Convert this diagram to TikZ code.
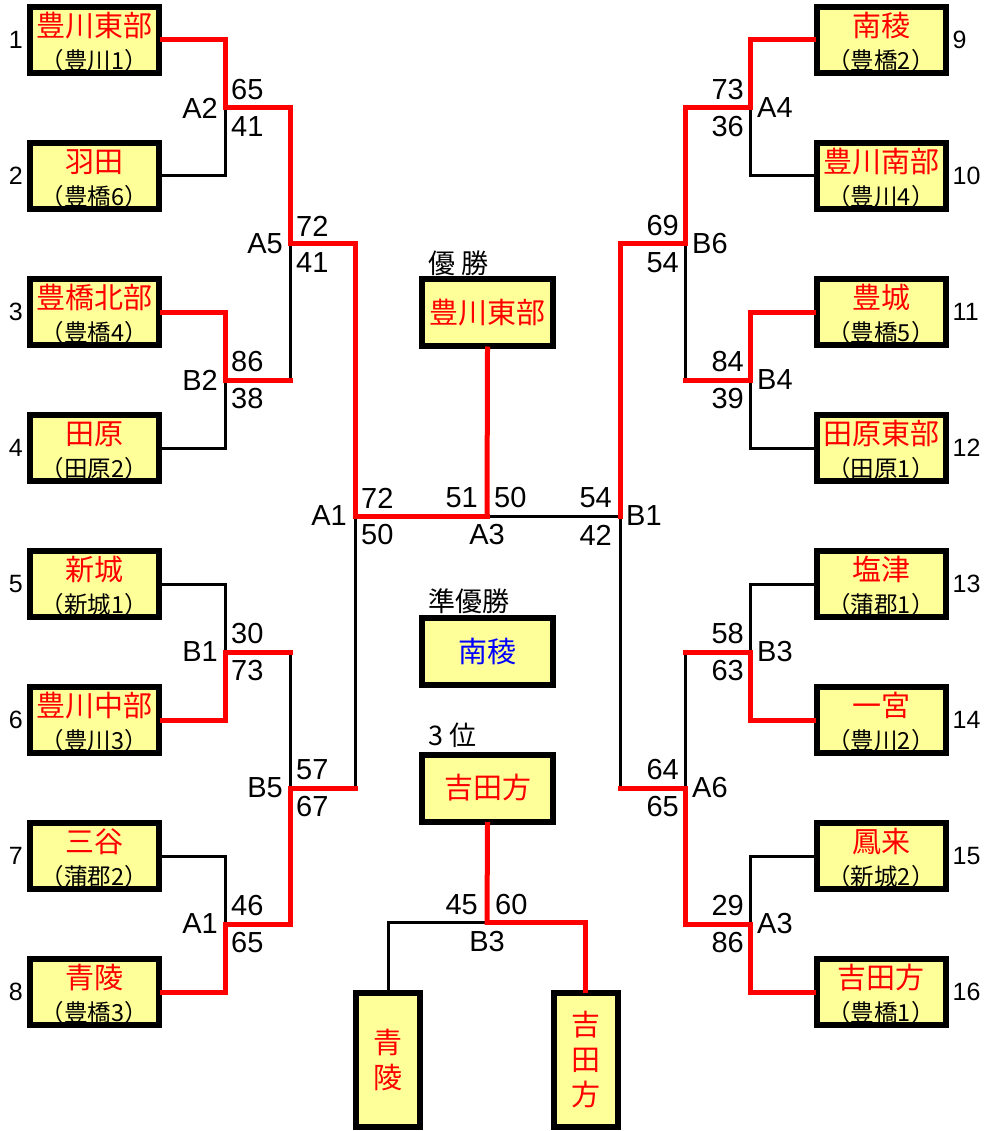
\documentclass[tikz,border=0pt]{standalone}
\usepackage{fontspec}
\setmainfont{Liberation Sans}
\newfontfamily\jp{Noto Sans CJK JP}
\usepackage{tikz}
\usetikzlibrary{positioning,calc}
\definecolor{boxfill}{RGB}{255,255,153}
\definecolor{winred}{RGB}{255,0,0}
\definecolor{runblue}{RGB}{0,0,255}
\newcommand{\nm}[1]{{\color{winred}\fontsize{29}{33}\selectfont\rule{0pt}{29pt}#1}}

\begin{document}
\begin{tikzpicture}[x=1pt, y=-1pt]
\tikzstyle{team}=[draw, line width=6pt, fill=boxfill, minimum width=129pt, minimum height=66pt, inner sep=0pt, align=center, font=\jp\fontsize{23.5}{33}\selectfont]
\tikzstyle{final}=[draw, line width=6pt, fill=boxfill, minimum width=131pt, minimum height=67pt, inner sep=0pt, font=\jp\fontsize{29}{35}\selectfont]
\tikzstyle{vbox}=[draw, line width=6pt, fill=boxfill, minimum width=64pt, minimum height=134pt, inner sep=0pt, align=center, text=winred, font=\jp\fontsize{29}{35}\selectfont]
\tikzstyle{lbl}=[inner sep=0pt, anchor=west, font=\jp\fontsize{27}{27}\selectfont]
\tikzstyle{seed}=[inner sep=0pt, font=\fontsize{25}{25}\selectfont]
\tikzstyle{sc}=[inner sep=0pt, font=\fontsize{29}{29}\selectfont]
\tikzstyle{win}=[draw=winred, line width=5pt, line cap=rect]
\tikzstyle{lose}=[draw=black, line width=3pt, line cap=rect]
\useasboundingbox (0,0) rectangle (984,1131);
% left half
\node[team] (t1) at (94.5,40) {\nm{豊川東部}\\（豊川1）};
\node[team] (t2) at (94.5,176) {\nm{羽田}\\（豊橋6）};
\node[team] (t3) at (94.5,312) {\nm{豊橋北部}\\（豊橋4）};
\node[team] (t4) at (94.5,448) {\nm{田原}\\（田原2）};
\node[team] (t5) at (94.5,584) {\nm{新城}\\（新城1）};
\node[team] (t6) at (94.5,720) {\nm{豊川中部}\\（豊川3）};
\node[team] (t7) at (94.5,856) {\nm{三谷}\\（蒲郡2）};
\node[team] (t8) at (94.5,992) {\nm{青陵}\\（豊橋3）};
% right half
\node[team] (t9) at (881,40) {\nm{南稜}\\（豊橋2）};
\node[team] (t10) at (881,176) {\nm{豊川南部}\\（豊川4）};
\node[team] (t11) at (881,312) {\nm{豊城}\\（豊橋5）};
\node[team] (t12) at (881,448) {\nm{田原東部}\\（田原1）};
\node[team] (t13) at (881,584) {\nm{塩津}\\（蒲郡1）};
\node[team] (t14) at (881,720) {\nm{一宮}\\（豊川2）};
\node[team] (t15) at (881,856) {\nm{鳳来}\\（新城2）};
\node[team] (t16) at (881,992) {\nm{吉田方}\\（豊橋1）};
% seeds
\node[seed, left=4pt of t1] (n1) {1};
\node[seed, left=4pt of t2] (n2) {2};
\node[seed, left=4pt of t3] (n3) {3};
\node[seed, left=4pt of t4] (n4) {4};
\node[seed, left=4pt of t5] (n5) {5};
\node[seed, left=4pt of t6] (n6) {6};
\node[seed, left=4pt of t7] (n7) {7};
\node[seed, left=4pt of t8] (n8) {8};
\node[seed, right=4pt of t9] (n9) {9};
\node[seed, right=4pt of t10] (n10) {10};
\node[seed, right=4pt of t11] (n11) {11};
\node[seed, right=4pt of t12] (n12) {12};
\node[seed, right=4pt of t13] (n13) {13};
\node[seed, right=4pt of t14] (n14) {14};
\node[seed, right=4pt of t15] (n15) {15};
\node[seed, right=4pt of t16] (n16) {16};
% centre boxes
\node[final, text=winred] (champ) at (487.5,312.5) {豊川東部};
\node[lbl] (champL) at (428,263) {優 勝};
\node[final, text=runblue] (second) at (487.5,651.5) {南稜};
\node[lbl] (secondL) at (428,601) {準優勝};
\node[final, text=winred] (third) at (487.5,788) {吉田方};
\node[lbl] (thirdL) at (428,735) {3 位};
\node[vbox] (aoi) at (388,1060) {青\\陵};
\node[vbox] (yoshi) at (585.5,1060) {吉\\田\\方};
% junctions
\coordinate (A2) at (225,108);
\coordinate (B2) at (225,380);
\coordinate (B1L) at (225,652);
\coordinate (A1L) at (225,924);
\coordinate (A5) at (290,244);
\coordinate (B5) at (290,788);
\coordinate (A1) at (355,516);
\coordinate (A4) at (750,108);
\coordinate (B4) at (750,380);
\coordinate (B3R) at (750,652);
\coordinate (A3R) at (750,924);
\coordinate (B6) at (685,244);
\coordinate (A6) at (685,788);
\coordinate (B1) at (620,516);
\coordinate (A3) at (487,516);
\coordinate (B3) at (487,922);
% losing lines
\draw[lose] (t2.east) -| (A2);
\draw[lose] (t4.east) -| (B2);
\draw[lose] (t5.east) -| (B1L);
\draw[lose] (t7.east) -| (A1L);
\draw[lose] (B2 -| A5) -- (A5);
\draw[lose] (B1L -| B5) -- (B5);
\draw[lose] (B5 -| A1) -- (A1);
\draw[lose] (t10.west) -| (A4);
\draw[lose] (t12.west) -| (B4);
\draw[lose] (t13.west) -| (B3R);
\draw[lose] (t15.west) -| (A3R);
\draw[lose] (B4 -| B6) -- (B6);
\draw[lose] (B3R -| A6) -- (A6);
\draw[lose] (A6 -| B1) -- (B1);
\draw[lose] (B1) -- (A3);
\draw[lose] (B3) -| (aoi.north);
% winning lines
\draw[win] (t1.east) -| (A2);
\draw[win] (t3.east) -| (B2);
\draw[win] (t6.east) -| (B1L);
\draw[win] (t8.east) -| (A1L);
\draw[win] (A2) -| (A5);
\draw[win] (B2) -- (B2 -| A5);
\draw[win] (B1L) -- (B1L -| B5);
\draw[win] (A1L) -| (B5);
\draw[win] (A5) -| (A1);
\draw[win] (B5) -- (B5 -| A1);
\draw[win] (t9.west) -| (A4);
\draw[win] (t11.west) -| (B4);
\draw[win] (t14.west) -| (B3R);
\draw[win] (t16.west) -| (A3R);
\draw[win] (A4) -| (B6);
\draw[win] (B4) -- (B4 -| B6);
\draw[win] (B3R) -- (B3R -| A6);
\draw[win] (A3R) -| (A6);
\draw[win] (B6) -| (B1);
\draw[win] (A6) -- (A6 -| B1);
\draw[win] (A1) -- (A3);
\draw[win] (A3) -- (champ.south);
\draw[win] (B3) -| (yoshi.north);
\draw[win] (third.south) -- (B3);
% scores, left half
\node[sc, anchor=west] (A2a) at ([shift={(6,-18)}]A2) {65};
\node[sc, anchor=west] (A2b) at ([shift={(6,19)}]A2) {41};
\node[sc, anchor=east] (A2n) at ([xshift=-7]A2) {A2};
\node[sc, anchor=west] (B2a) at ([shift={(6,-18)}]B2) {86};
\node[sc, anchor=west] (B2b) at ([shift={(6,19)}]B2) {38};
\node[sc, anchor=east] (B2n) at ([xshift=-7]B2) {B2};
\node[sc, anchor=west] (B1La) at ([shift={(6,-18)}]B1L) {30};
\node[sc, anchor=west] (B1Lb) at ([shift={(6,19)}]B1L) {73};
\node[sc, anchor=east] (B1Ln) at ([xshift=-7]B1L) {B1};
\node[sc, anchor=west] (A1La) at ([shift={(6,-18)}]A1L) {46};
\node[sc, anchor=west] (A1Lb) at ([shift={(6,19)}]A1L) {65};
\node[sc, anchor=east] (A1Ln) at ([xshift=-7]A1L) {A1};
\node[sc, anchor=west] (A5a) at ([shift={(6,-18)}]A5) {72};
\node[sc, anchor=west] (A5b) at ([shift={(6,19)}]A5) {41};
\node[sc, anchor=east] (A5n) at ([xshift=-7]A5) {A5};
\node[sc, anchor=west] (B5a) at ([shift={(6,-18)}]B5) {57};
\node[sc, anchor=west] (B5b) at ([shift={(6,19)}]B5) {67};
\node[sc, anchor=east] (B5n) at ([xshift=-7]B5) {B5};
\node[sc, anchor=west] (A1a) at ([shift={(6,-18)}]A1) {72};
\node[sc, anchor=west] (A1b) at ([shift={(6,19)}]A1) {50};
\node[sc, anchor=east] (A1n) at ([xshift=-8]A1) {A1};
% scores, right half
\node[sc, anchor=east] (A4a) at ([shift={(-6,-18)}]A4) {73};
\node[sc, anchor=east] (A4b) at ([shift={(-6,19)}]A4) {36};
\node[sc, anchor=west] (A4n) at ([xshift=7]A4) {A4};
\node[sc, anchor=east] (B4a) at ([shift={(-6,-18)}]B4) {84};
\node[sc, anchor=east] (B4b) at ([shift={(-6,19)}]B4) {39};
\node[sc, anchor=west] (B4n) at ([xshift=7]B4) {B4};
\node[sc, anchor=east] (B3Ra) at ([shift={(-6,-18)}]B3R) {58};
\node[sc, anchor=east] (B3Rb) at ([shift={(-6,19)}]B3R) {63};
\node[sc, anchor=west] (B3Rn) at ([xshift=7]B3R) {B3};
\node[sc, anchor=east] (A3Ra) at ([shift={(-6,-18)}]A3R) {29};
\node[sc, anchor=east] (A3Rb) at ([shift={(-6,19)}]A3R) {86};
\node[sc, anchor=west] (A3Rn) at ([xshift=7]A3R) {A3};
\node[sc, anchor=east] (B6a) at ([shift={(-6,-18)}]B6) {69};
\node[sc, anchor=east] (B6b) at ([shift={(-6,19)}]B6) {54};
\node[sc, anchor=west] (B6n) at ([xshift=7]B6) {B6};
\node[sc, anchor=east] (A6a) at ([shift={(-6,-18)}]A6) {64};
\node[sc, anchor=east] (A6b) at ([shift={(-6,19)}]A6) {65};
\node[sc, anchor=west] (A6n) at ([xshift=7]A6) {A6};
\node[sc, anchor=east] (B1a) at ([shift={(-8,-18)}]B1) {54};
\node[sc, anchor=east] (B1b) at ([shift={(-8,19)}]B1) {42};
\node[sc, anchor=west] (B1n) at ([xshift=6]B1) {B1};
% final and third place
\node[sc, anchor=east] (A3a) at ([shift={(-9,-18)}]A3) {51};
\node[sc, anchor=west] (A3b) at ([shift={(7,-18)}]A3) {50};
\node[sc] (A3n) at ([shift={(0,19)}]A3) {A3};
\node[sc, anchor=east] (B3a) at ([shift={(-9,-17)}]B3) {45};
\node[sc, anchor=west] (B3b) at ([shift={(8,-17)}]B3) {60};
\node[sc] (B3n) at ([shift={(0,20)}]B3) {B3};
\end{tikzpicture}
\end{document}
